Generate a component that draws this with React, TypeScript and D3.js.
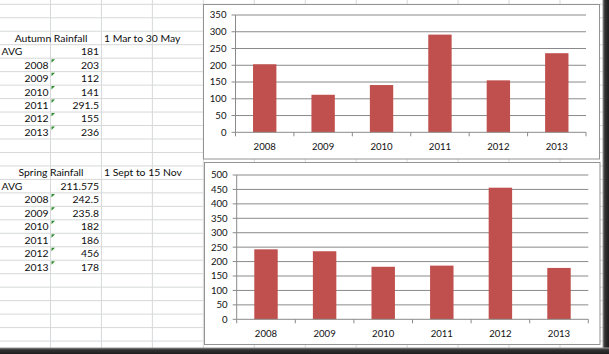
import React from "react";
import * as d3 from "d3";

const years = ["2008", "2009", "2010", "2011", "2012", "2013"];
const autumnValues = [203, 112, 141, 291.5, 155, 236];
const springValues = [242.5, 235.8, 182, 186, 456, 178];
const autumnTicks = [0, 50, 100, 150, 200, 250, 300, 350];
const springTicks = [0, 50, 100, 150, 200, 250, 300, 350, 400, 450, 500];
const autumnTitle = "Autumn Rainfall";
const autumnRange = "1 Mar to 30 May";
const autumnAvg = "181";
const springTitle = "Spring Rainfall";
const springRange = "1 Sept to 15 Nov";
const springAvg = "211.575";

const W = 609;
const H = 354;
const FONT = "Lato, 'Open Sans', sans-serif";
const BAR = "#C0504D";

const ROW0 = 4.3;
const ROWH = 13.47;
const COL0 = 50.5;
const COLW = 50.95;

function rowTop(k: number) {
  return ROW0 + ROWH * k;
}

function Grid() {
  const rows = d3.range(0, 27).map(rowTop);
  const cols = d3.range(0, 12).map((j) => COL0 + COLW * j);
  return (
    <g>
      {rows.map((y, i) => (
        <line key={"r" + i} x1={0} x2={W} y1={y} y2={y} stroke="#d6d8d9" strokeWidth={1} />
      ))}
      {cols.map((x, i) => (
        <line key={"c" + i} x1={x} x2={x} y1={0} y2={H} stroke="#d6d8d9" strokeWidth={1} />
      ))}
    </g>
  );
}

function Block({ k0, title, range, avg, values }: { k0: number; title: string; range: string; avg: string; values: number[] }) {
  const base = (k: number) => rowTop(k0 + k) + 10.4;
  const fs = 10.4;
  return (
    <g fontFamily={FONT} fontSize={fs} fill="#0d0d0d">
      <text x={51} y={base(0)} textAnchor="middle">{title}</text>
      <text x={104} y={base(0)}>{range}</text>
      <text x={1.5} y={base(1)}>AVG</text>
      <text x={99} y={base(1)} textAnchor="end">{avg}</text>
      {years.map((yr, i) => (
        <g key={yr}>
          <text x={48.5} y={base(2 + i)} textAnchor="end">{yr}</text>
          <text x={99} y={base(2 + i)} textAnchor="end">{String(values[i])}</text>
          <path
            d={`M${COL0 + 1},${rowTop(k0 + 2 + i) + 1} h3.5 L${COL0 + 1},${rowTop(k0 + 2 + i) + 4.5} Z`}
            fill="#2e8b2e"
          />
        </g>
      ))}
    </g>
  );
}

function ChartPanel({
  box,
  plot,
  values,
  ticks,
  labelY,
}: {
  box: { x: number; y: number; w: number; h: number };
  plot: { l: number; r: number; t: number; b: number };
  values: number[];
  ticks: number[];
  labelY: number;
}) {
  const xb = d3.scaleBand<string>().domain(years).range([plot.l, plot.r]);
  const y = d3.scaleLinear().domain([0, ticks[ticks.length - 1]]).range([plot.b, plot.t]);
  const bw = xb.bandwidth() / 2.5;
  return (
    <g>
      <rect x={box.x} y={box.y} width={box.w} height={box.h} fill="#ffffff" stroke="#939393" strokeWidth={1} />
      {ticks.map((t) => (
        <g key={t}>
          {t > 0 && (
            <line x1={plot.l} x2={plot.r} y1={y(t)} y2={y(t)} stroke="#8a8a8a" strokeWidth={1} />
          )}
          <line x1={plot.l - 4} x2={plot.l} y1={y(t)} y2={y(t)} stroke="#8a8a8a" strokeWidth={1} />
          <text
            x={plot.l - 9}
            y={y(t)}
            dy="0.35em"
            textAnchor="end"
            fontFamily={FONT}
            fontSize={9.6}
            fill="#111"
          >
            {t}
          </text>
        </g>
      ))}
      {years.map((yr, i) => {
        const cx = (xb(yr) as number) + xb.bandwidth() / 2;
        return (
          <rect
            key={yr}
            x={cx - bw / 2}
            y={y(values[i])}
            width={bw}
            height={y(0) - y(values[i])}
            fill={BAR}
          />
        );
      })}
      <line x1={plot.l} x2={plot.l} y1={plot.t} y2={plot.b} stroke="#8a8a8a" strokeWidth={1} />
      <line x1={plot.l} x2={plot.r} y1={plot.b} y2={plot.b} stroke="#8a8a8a" strokeWidth={1} />
      {years.map((yr) => (
        <line
          key={"t" + yr}
          x1={xb(yr) as number}
          x2={xb(yr) as number}
          y1={plot.b}
          y2={plot.b + 4}
          stroke="#8a8a8a"
        />
      ))}
      <line x1={plot.r} x2={plot.r} y1={plot.b} y2={plot.b + 4} stroke="#8a8a8a" />
      {years.map((yr) => (
        <text
          key={"l" + yr}
          x={(xb(yr) as number) + xb.bandwidth() / 2}
          y={labelY}
          dy="0.35em"
          textAnchor="middle"
          fontFamily={FONT}
          fontSize={9.6}
          fill="#111"
        >
          {yr}
        </text>
      ))}
    </g>
  );
}

export default function App() {
  return (
    <svg
      width={W}
      height={H}
      style={{ position: "fixed", left: 0, top: 0, background: "#fff" }}
      viewBox={`0 0 ${W} ${H}`}
    >
      <defs>
        <linearGradient id="bshadow" x1="0" y1="0" x2="0" y2="1">
          <stop offset="0" stopColor="#9a9a9a" />
          <stop offset="0.35" stopColor="#333" />
          <stop offset="1" stopColor="#1c1c1c" />
        </linearGradient>
        <linearGradient id="rshadow" x1="0" y1="0" x2="1" y2="0">
          <stop offset="0" stopColor="#9a9a9a" />
          <stop offset="0.35" stopColor="#333" />
          <stop offset="1" stopColor="#1c1c1c" />
        </linearGradient>
      </defs>
      <rect x={0} y={0} width={W} height={H} fill="#fff" />
      <Grid />
      <Block k0={2} title={autumnTitle} range={autumnRange} avg={autumnAvg} values={autumnValues} />
      <Block k0={12} title={springTitle} range={springRange} avg={springAvg} values={springValues} />
      <ChartPanel
        box={{ x: 203.5, y: 4.5, w: 396, h: 154.5 }}
        plot={{ l: 235.5, r: 586, t: 15, b: 132.3 }}
        values={autumnValues}
        ticks={autumnTicks}
        labelY={146.7}
      />
      <ChartPanel
        box={{ x: 204.5, y: 162.5, w: 395.5, h: 182 }}
        plot={{ l: 236.7, r: 588.3, t: 175, b: 319.3 }}
        values={springValues}
        ticks={springTicks}
        labelY={333.3}
      />
      <rect x={602.5} y={0} width={W - 602.5} height={H} fill="url(#rshadow)" />
      <rect x={0} y={347.5} width={W} height={H - 347.5} fill="url(#bshadow)" />
    </svg>
  );
}
